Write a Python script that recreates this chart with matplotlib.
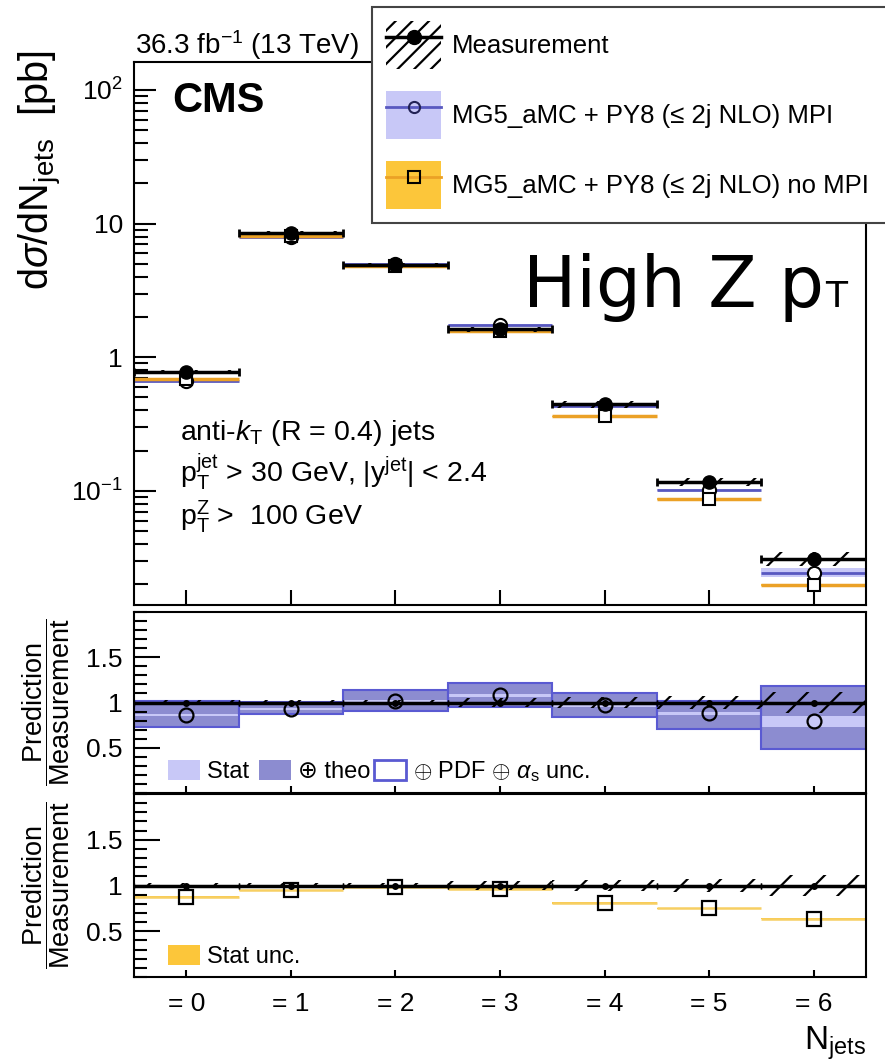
import numpy as np
import matplotlib.pyplot as plt
from matplotlib.patches import Patch
from matplotlib.lines import Line2D
from matplotlib.ticker import FixedLocator, MultipleLocator, LogLocator, FuncFormatter, NullFormatter

plt.rcParams['font.family'] = ['Liberation Sans', 'DejaVu Sans']
plt.rcParams['mathtext.fontset'] = 'custom'
plt.rcParams['mathtext.rm'] = 'Liberation Sans'
plt.rcParams['mathtext.it'] = 'Liberation Sans:italic'
plt.rcParams['mathtext.bf'] = 'Liberation Sans:bold'
plt.rcParams['mathtext.sf'] = 'Liberation Sans'
plt.rcParams['hatch.linewidth'] = 1.6

# data
njets = np.arange(7)
tick_labels = ['= 0', '= 1', '= 2', '= 3', '= 4', '= 5', '= 6']

meas = np.array([0.78, 8.57, 4.89, 1.62, 0.446, 0.116, 0.031])      # pb
meas_unc = np.array([0.03, 0.03, 0.03, 0.045, 0.06, 0.07, 0.12])     # relative
mpi = np.array([0.67, 7.97, 4.99, 1.75, 0.433, 0.102, 0.0245])
mpi_stat = np.array([0.015, 0.01, 0.01, 0.015, 0.02, 0.02, 0.08])     # relative
ratio_theo_lo = np.array([0.73, 0.87, 0.91, 0.95, 0.84, 0.71, 0.49])
ratio_theo_hi = np.array([1.02, 1.01, 1.14, 1.21, 1.10, 1.02, 1.18])
nompi = np.array([0.686, 8.14, 4.79, 1.56, 0.361, 0.087, 0.0198])
nompi_stat = np.array([0.005, 0.005, 0.005, 0.008, 0.01, 0.01, 0.015])

c_lav = '#c8c8f7'
c_mpi = '#5858c0'
c_theo = '#8c8cd0'
c_out = '#5a5ad2'
c_orange = '#fcc63a'
c_oline = '#eba126'

fig = plt.figure(figsize=(8.85, 10.64), dpi=100)
ax = fig.add_axes([134/885, 1-605/1064, 732/885, 543/1064])
ax1 = fig.add_axes([134/885, 1-793/1064, 732/885, 181/1064])
ax2 = fig.add_axes([134/885, 1-977/1064, 732/885, 183/1064])

# ---- main panel
ax.set_yscale('log')
ax.bar(njets, 2*mpi*mpi_stat, bottom=mpi*(1-mpi_stat), width=1, color=c_lav, lw=0, zorder=1)
ax.hlines(mpi, njets-0.5, njets+0.5, color=c_mpi, lw=2, zorder=2)
ax.bar(njets, 2*nompi*nompi_stat, bottom=nompi*(1-nompi_stat), width=1, color=c_orange, lw=0, zorder=1)
ax.hlines(nompi, njets-0.5, njets+0.5, color=c_oline, lw=2.5, zorder=2)
ax.bar(njets, 2*meas*meas_unc, bottom=meas*(1-meas_unc), width=1, fill=False,
       hatch='/', edgecolor='k', lw=0, zorder=3)
ax.plot(njets, mpi, 'o', mfc='white', mec='k', ms=9.5, mew=1.5, ls='none', zorder=4)
ax.plot(njets, nompi, 's', mfc='white', mec='k', ms=9, mew=1.5, ls='none', zorder=4.5)
ax.errorbar(njets, meas, xerr=0.5, fmt='o', color='k', ms=9.5, elinewidth=2.5,
            capsize=3, capthick=2, zorder=5)
ax.set_ylim(0.014, 162)

ax.yaxis.set_major_locator(LogLocator(base=10, numticks=10))
ax.yaxis.set_minor_locator(LogLocator(base=10, subs=np.arange(2, 10), numticks=20))
ylab = {100: '$10^{2}$', 10: '10', 1: '1', 0.1: '$10^{-1}$'}
ax.yaxis.set_major_formatter(FuncFormatter(lambda v, p: ylab.get(round(v, 6), '')))
ax.yaxis.set_minor_formatter(NullFormatter())
ax.set_ylabel(r'd$\sigma$/dN$_\mathrm{jets}$  [pb]', fontsize=28.5, loc='top')
ax.yaxis.set_label_coords(-0.096, 1.022)

ax.text(0.052, 0.908, 'CMS', transform=ax.transAxes, fontsize=30, fontweight='bold', va='baseline')
fig.text(135/885, 1-54/1064, r'36.3 fb$^{-1}$ (13 TeV)', fontsize=20, va='baseline')
ax.text(0.063, 0.304, r'anti-$k_\mathrm{T}$ (R = 0.4) jets', transform=ax.transAxes, fontsize=20.5, va='baseline')
ax.text(0.063, 0.2265, r'p$_\mathrm{T}^\mathrm{jet}$ > 30 GeV, |y$^\mathrm{jet}$| < 2.4', transform=ax.transAxes, fontsize=20.5, va='baseline')
ax.text(0.063, 0.147, r'p$_\mathrm{T}^\mathrm{Z}$ >  100 GeV', transform=ax.transAxes, fontsize=20.5, va='baseline')
fig.text(523/885, 1-307/1064, 'High Z p', fontsize=51, family='DejaVu Sans', va='baseline')
fig.text(825/885, 1-307/1064, 'T', fontsize=26, family='DejaVu Sans', va='baseline')

h_meas = (Patch(facecolor='none', edgecolor='k', hatch='//', lw=0),
          Line2D([], [], color='k', lw=2.5, marker='o', ms=10))
h_mpi = (Patch(facecolor=c_lav, lw=0),
         Line2D([], [], color=c_mpi, lw=2, marker='o', ms=8, mfc='none', mec='#222255', mew=1.5))
h_nompi = (Patch(facecolor=c_orange, lw=0),
           Line2D([], [], color=c_oline, lw=2, marker='s', ms=8, mfc='none', mec='k', mew=1.5))
leg = ax.legend([h_meas, h_mpi, h_nompi],
                ['Measurement', 'MG5_aMC + PY8 (≤ 2j NLO) MPI', 'MG5_aMC + PY8 (≤ 2j NLO) no MPI'],
                loc='upper left', bbox_to_anchor=(372/885, 1-7/1064-0.01, 530/885, 0.01),
                bbox_transform=fig.transFigure, mode='expand', fontsize=18.5,
                handlelength=2.15, handleheight=2.5, handletextpad=0.4, labelspacing=0.85,
                borderpad=0.55, borderaxespad=0, fancybox=False, framealpha=1)
leg.get_frame().set_edgecolor('#444444')
leg.get_frame().set_linewidth(1.5)

# ---- ratio panel MPI
r_mpi = mpi/meas
ax1.bar(njets, ratio_theo_hi-ratio_theo_lo, bottom=ratio_theo_lo, width=1, color=c_theo, lw=0, zorder=1)
ax1.bar(njets, 2*r_mpi*mpi_stat, bottom=r_mpi*(1-mpi_stat), width=1, color=c_lav, lw=0, zorder=2)
ax1.bar(njets, ratio_theo_hi-ratio_theo_lo, bottom=ratio_theo_lo, width=1, fill=False,
        edgecolor=c_out, lw=1.5, zorder=2.5)
ax1.bar(njets, 2*meas_unc, bottom=1-meas_unc, width=1, fill=False, hatch='/', edgecolor='k', lw=0, zorder=3)
ax1.errorbar(njets, np.ones(7), xerr=0.5, fmt='o', color='k', ms=4, elinewidth=2.5, capsize=2, zorder=4)
ax1.plot(njets, r_mpi, 'o', mfc='none', mec='k', ms=10, mew=1.6, ls='none', zorder=5)
ax1.legend([Patch(facecolor=c_lav, lw=0), Patch(facecolor=c_theo, lw=0),
            Patch(facecolor='white', edgecolor=c_out, lw=2)],
           ['Stat ', '⊕ theo', r'$\oplus$ PDF $\oplus$ $\alpha_\mathrm{s}$ unc.'],
           loc='lower left', bbox_to_anchor=(0.046, 0.05), ncol=3, frameon=False, fontsize=17,
           handlelength=1.35, handleheight=0.95, handletextpad=0.3, columnspacing=0.15,
           borderpad=0, borderaxespad=0)

# ---- ratio panel no MPI
r_nompi = nompi/meas
ax2.bar(njets, 2*r_nompi*nompi_stat, bottom=r_nompi*(1-nompi_stat), width=1, color=c_orange, lw=0, zorder=1)
ax2.hlines(r_nompi, njets-0.5, njets+0.5, color='#f7cf62', lw=1.8, zorder=2)
ax2.bar(njets, 2*meas_unc, bottom=1-meas_unc, width=1, fill=False, hatch='/', edgecolor='k', lw=0, zorder=3)
ax2.errorbar(njets, np.ones(7), xerr=0.5, fmt='o', color='k', ms=4, elinewidth=2.5, capsize=2, zorder=4)
ax2.plot(njets, r_nompi, 's', mfc='none', mec='k', ms=9.5, mew=1.6, ls='none', zorder=5)
ax2.legend([Patch(facecolor=c_orange, lw=0)], ['Stat unc.'],
           loc='lower left', bbox_to_anchor=(0.046, 0.05), frameon=False, fontsize=17,
           handlelength=1.35, handleheight=0.95, handletextpad=0.3, borderpad=0, borderaxespad=0)

for a in (ax1, ax2):
    a.set_ylim(0, 2)
    a.yaxis.set_major_locator(FixedLocator([0.5, 1, 1.5]))
    a.yaxis.set_major_formatter(FuncFormatter(lambda v, p: '%g' % v))
    a.yaxis.set_minor_locator(MultipleLocator(0.1))
    a.set_ylabel(r'$\dfrac{\mathrm{Prediction}}{\mathrm{Measurement}}$', fontsize=19.5)
    a.yaxis.set_label_coords(-0.085, 0.5)
    a.tick_params(axis='y', which='major', direction='in', length=19, width=1.5, labelsize=19, pad=8)
    a.tick_params(axis='y', which='minor', direction='in', length=9.5, width=1.5)
    a.tick_params(axis='x', direction='in', length=5, width=1.5, top=False)

for a in (ax, ax1, ax2):
    a.set_xlim(-0.5, 6.5)
    a.set_xticks(njets)
    a.tick_params(axis='x', which='minor', bottom=False)
    for s in a.spines.values():
        s.set_linewidth(1.5)

ax.tick_params(axis='y', which='major', direction='in', length=16, width=1.5, labelsize=19, pad=8)
ax.tick_params(axis='y', which='minor', direction='in', length=10, width=1.5)
ax.tick_params(axis='x', direction='in', length=11, width=1.5, top=False, labelbottom=False)
ax1.tick_params(axis='x', labelbottom=False)
ax2.set_xticklabels(tick_labels)
ax2.tick_params(axis='x', labelsize=19, pad=11)
ax2.set_xlabel(r'N$_\mathrm{jets}$', fontsize=24, loc='right')
ax2.xaxis.set_label_coords(1.0, -0.26)

fig.savefig('out.png', dpi=100)
